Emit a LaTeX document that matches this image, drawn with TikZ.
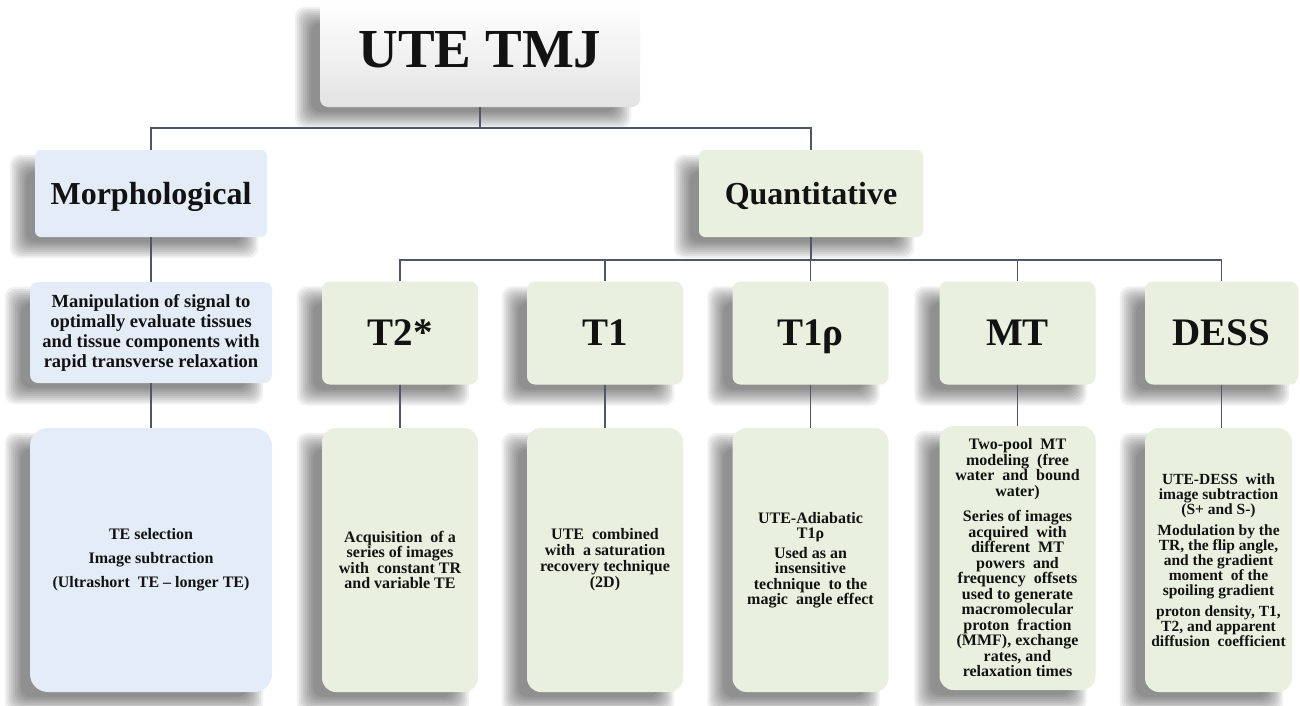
\documentclass[tikz,border=0pt]{standalone}
\usepackage{fontspec}
\setmainfont{Liberation Serif}
\usetikzlibrary{calc}
\pgfdeclarelayer{bgfill}
\pgfdeclarelayer{background}
\pgfsetlayers{bgfill,background,main}
\definecolor{qgreen}{HTML}{EAF0DF}
\definecolor{mblue}{HTML}{E4ECF7}
\definecolor{conncol}{HTML}{4F586B}
\definecolor{txt}{HTML}{121212}
\begin{document}
\begin{tikzpicture}[x=1pt,y=-1pt,
  base/.style={draw=none, inner sep=0pt, align=center, text=txt},
  qbox/.style={base, fill=qgreen},
  mbox/.style={base, fill=mblue},
  lvltwo/.style={minimum width=#1, minimum height=87, rounded corners=6,
    font=\bfseries\fontsize{32}{36}\selectfont, text height=21.2pt, text depth=0pt},
  lvlthree/.style={qbox, minimum width=#1, minimum height=103, rounded corners=8,
    font=\bfseries\fontsize{39}{42}\selectfont, text height=25.8pt, text depth=0pt},
  lvlfour/.style={qbox, minimum width=#1, minimum height=264, rounded corners=14},
  desc/.style 2 args={font=\bfseries\fontsize{#1}{#2}\selectfont},
  conn/.style={draw=conncol, line width=1.1pt},
]
\useasboundingbox (0,0) rectangle (1300,705);

% title
\node[base, minimum width=320, minimum height=105, rounded corners=8,
  top color=white, middle color=white!96!black, bottom color=black!11,
  font=\bfseries\fontsize{55}{60}\selectfont, text height=36.4pt, text depth=11pt]
  (title) at (480,54.5) {UTE TMJ};

% level 2
\node[mbox, lvltwo=232] (morph) at (151,193.5) {Morphological};
\node[qbox, lvltwo=224] (quant) at (811,193.5) {Quantitative};

% morphological branch
\node[mbox, minimum width=242, minimum height=101, rounded corners=8,
  desc={18.5}{20}] (manip) at (151,332.5)
  {Manipulation of signal to\\optimally evaluate tissues\\and tissue components with\\rapid transverse relaxation};
\node[mbox, minimum width=242, minimum height=264, rounded corners=18,
  desc={16}{24}] (ted) at (151,560)
  {TE selection\\Image subtraction\\(Ultrashort\ \ TE -- longer TE)};

% level 3
\node[lvlthree=156] (t2) at (400,333) {T2*};
\node[lvlthree=156] (t1) at (605,333) {T1};
\node[lvlthree=156] (t1r) at (810.5,333) {T1ρ};
\node[lvlthree=156] (mt) at (1017.5,333) {MT};
\node[lvlthree=153] (dess) at (1221.5,333) {DESS};

% level 4
\node[lvlfour=156, desc={16}{15.5}] (t2d) at (400,560)
  {Acquisition\ \ of a\\series of images\\with\ \ constant TR\\and variable TE};
\node[lvlfour=156, desc={16}{16}] (t1d) at (605,560)
  {UTE\ \ combined\\with\ \ a saturation\\recovery technique\\(2D)};
\node[lvlfour=156, desc={16}{15.5}] (t1rd) at (810.5,560)
  {UTE-Adiabatic\\T1ρ\\[4pt]Used as an\\insensitive\\technique\ \ to the\\magic\ \ angle effect};
\node[lvlfour=156, desc={16}{15.5}] (mtd) at (1017.5,558)
  {Two-pool\ \ MT\\modeling\ \ (free\\water\ \ and\ \ bound\\water)\\[10pt]Series of images\\acquired\ \ with\\different\ \ MT\\powers\ \ and\\frequency\ \ offsets\\used to generate\\macromolecular\\proton\ \ fraction\\(MMF), exchange\\rates, and\\relaxation times};
\node[lvlfour=147, desc={15.5}{15}] (dessd) at (1218.5,560)
  {UTE-DESS\ \ with\\image subtraction\\(S+ and S-)\\[6pt]Modulation by the\\TR, the flip angle,\\and the gradient\\moment\ \ of the\\spoiling gradient\\[6pt]proton density, T1,\\T2, and apparent\\diffusion\ \ coefficient};

% connectors
\coordinate (barA) at (0,128);
\coordinate (barB) at (0,260);
\draw[conn] (title.south) -- (title.south |- barA);
\draw[conn] (morph.north) |- (title.south |- barA) -| (quant.north);
\draw[conn] (morph.south) -- (manip.north);
\draw[conn] (manip.south) -- (ted.north);
\draw[conn] (quant.south) -- (quant.south |- barB);
\draw[conn] (t2.north) |- (dess.north |- barB) -- (dess.north);
\foreach \n in {t1,t1r,mt} {\draw[conn] (\n.north) -- (\n.north |- barB);}
\draw[conn] (t2.south) -- (t2d.north);
\draw[conn] (t1.south) -- (t1d.north);
\draw[conn] (t1r.south) -- (t1rd.north);
\draw[conn] (mt.south) -- (mtd.north);
\draw[conn] (dess.south) -- (dess.south |- dessd.north);

% blurred drop shadows
\begin{pgfonlayer}{background}
\foreach \n in {title,morph,quant,manip,ted,t2,t1,t1r,mt,dess,t2d,t1d,t1rd,mtd,dessd} {
  \foreach \s in {0,2,...,16} {
    \fill[black, opacity=0.058, rounded corners=10]
      ($(\n.north west)+(-25+\s,5+\s)$) rectangle ($(\n.south east)+(-9-\s,21-\s)$);
  }
}
\end{pgfonlayer}
\begin{pgfonlayer}{bgfill}
\fill[white] (0,0) rectangle (1300,705);
\end{pgfonlayer}
\end{tikzpicture}
\end{document}
